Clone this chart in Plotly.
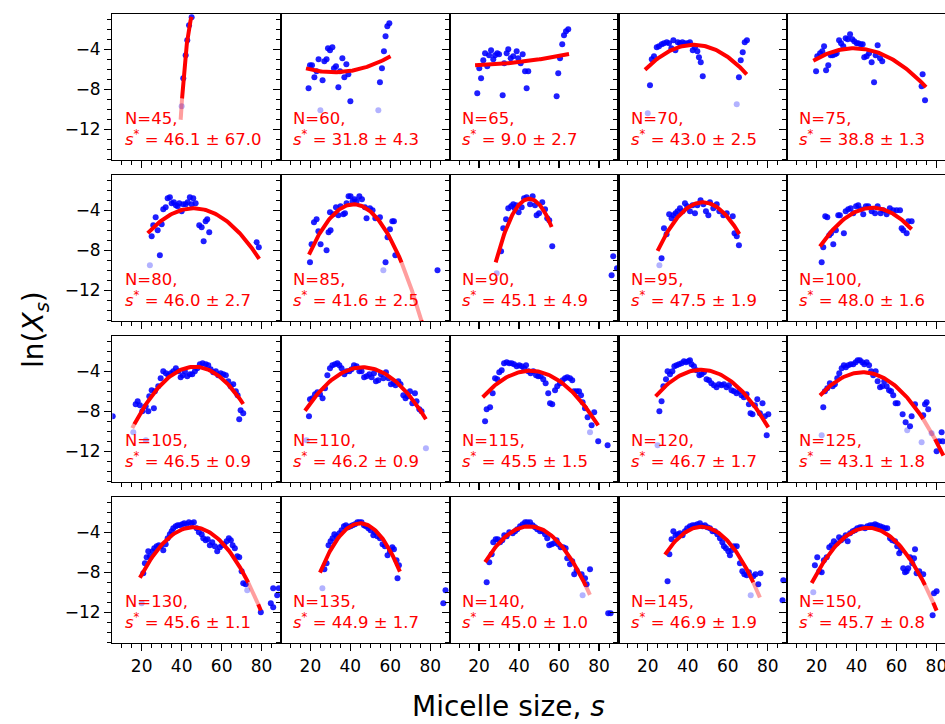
import numpy as np
import plotly.graph_objects as go

# ---------------- panel meta data ----------------
N_LIST = [45, 60, 65, 70, 75, 80, 85, 90, 95, 100, 105, 110, 115, 120, 125, 130, 135, 140, 145, 150]
S_STAR = [46.1, 31.8, 9.0, 43.0, 38.8, 46.0, 41.6, 45.1, 47.5, 48.0, 46.5, 46.2, 45.5, 46.7, 43.1, 45.6, 44.9, 45.0, 46.9, 45.7]
S_ERR = [67.0, 4.3, 2.7, 2.5, 1.3, 2.7, 2.5, 4.9, 1.9, 1.6, 0.9, 0.9, 1.5, 1.7, 1.8, 1.1, 1.7, 1.0, 1.9, 0.8]
# quadratic fit  ln X = peak + curv*(s - s*)^2 , drawn between FIT_FROM and FIT_TO
FIT_PEAK = [-0.46, -6.3, -5.63, -3.55, -3.9, -3.8, -3.4, -2.85, -3.2, -3.75, -3.55, -3.6, -3.95, -3.85, -4.1, -3.5, -3.1, -3.4, -3.45, -3.55]
FIT_CURV = [-0.243, 0.002, 0.00037, -0.0042, -0.003, -0.0047, -0.0101, -0.0225, -0.0095, -0.0056, -0.0063, -0.0052, -0.0047, -0.0051, -0.0051, -0.0072, -0.0122, -0.0074, -0.0083, -0.007]
FIT_FROM = [39.5, 17.8, 18.0, 18.6, 18.4, 23.0, 19.3, 28.3, 24.9, 21.7, 15.3, 17.3, 21.8, 23.9, 21.75, 19.1, 24.8, 23.0, 28.6, 17.6]
FIT_TO = [45.0, 60.1, 65.0, 69.5, 74.8, 78.8, 75.8, 56.3, 65.8, 67.6, 70.8, 77.8, 79.6, 80.3, 83.5, 79.6, 64.8, 75.45, 76.1, 80.1]
# faded stretch of the fit line (outside the fitted window)
FIT_FADE = [(39.5, 40.2), None, None, None, None, None, (65.6, 75.5), None, None, None, (15.3, 16.3),
            None, None, None, (73.4, 79.3), (73.3, 78.3), None, (73.45, 75.45), (72.8, 76.1), (74.3, 78.4)]

# ---------------- data points (s, ln X_s) ----------------
s_45 = [45.0, 43.7, 42.8, 42.0, 40.8]
y_45 = [-0.8, -1.6, -3.1, -4.6, -6.9]
fs_45 = [40.0]
fy_45 = [-9.7]

s_60 = [19.1, 19.8, 20.8, 22.0, 23.1, 24.1, 26.1, 27.0, 28.1, 28.8, 29.8, 31.0, 31.8, 32.8, 34.0, 34.8, 36.0, 37.0, 38.0, 39.0, 40.0, 54.8, 55.8, 56.8, 57.6, 58.5, 59.5]
y_60 = [-7.9, -5.6, -5.6, -6.8, -6.2, -5.0, -7.1, -5.2, -5.0, -3.9, -4.1, -3.8, -5.9, -5.7, -7.8, -6.2, -4.9, -6.8, -5.5, -6.5, -9.2, -7.3, -5.9, -4.2, -2.7, -1.7, -1.4]
fs_60 = [25.0, 54.0]
fy_60 = [-10.1, -10.1]

s_65 = [19.1, 20.1, 21.0, 22.1, 23.0, 24.1, 25.0, 26.0, 27.1, 28.0, 29.1, 30.0, 31.8, 32.6, 33.8, 34.6, 35.8, 37.1, 38.8, 39.6, 40.8, 41.8, 43.0, 44.6, 43.8, 58.8, 59.6, 60.5, 61.6, 62.5, 63.5, 64.6]
y_65 = [-8.4, -5.9, -6.9, -5.1, -4.4, -5.7, -4.6, -4.1, -5.0, -4.6, -4.4, -4.5, -8.6, -5.4, -4.4, -4.0, -4.9, -4.7, -4.2, -4.9, -5.4, -4.5, -6.2, -6.2, -7.9, -8.7, -6.4, -4.9, -3.5, -2.6, -2.2, -2.0]
fs_65 = []
fy_65 = []

s_70 = [21.1, 22.0, 23.1, 24.5, 25.6, 27.0, 28.1, 29.5, 30.6, 31.8, 32.8, 33.8, 35.0, 36.1, 37.3, 38.6, 40.0, 41.1, 42.5, 43.6, 44.8, 45.6, 46.5, 47.5, 65.6, 66.5, 67.5, 68.5, 69.6]
y_70 = [-7.6, -5.0, -4.7, -3.8, -3.7, -3.5, -3.4, -3.3, -3.4, -3.9, -3.1, -4.1, -3.3, -3.4, -3.3, -3.4, -3.4, -3.3, -4.1, -3.8, -4.2, -4.8, -5.3, -6.7, -6.8, -5.1, -4.3, -3.3, -3.1]
fs_70 = [20.0, 64.5]
fy_70 = [-10.4, -9.5]

s_75 = [19.8, 20.4, 21.8, 22.9, 23.8, 24.8, 25.9, 27.1, 28.1, 29.3, 30.1, 31.3, 32.3, 33.4, 34.6, 35.6, 36.8, 37.9, 38.9, 40.1, 40.9, 42.1, 43.1, 43.9, 45.1, 46.3, 47.6, 48.8, 49.6, 50.6, 51.8, 52.9, 73.1, 72.6, 74.3]
y_75 = [-6.2, -4.7, -4.4, -4.2, -3.7, -6.1, -5.6, -4.6, -4.6, -4.5, -4.4, -3.1, -3.4, -3.7, -2.9, -3.0, -2.5, -3.0, -3.2, -3.4, -3.4, -3.5, -3.5, -4.8, -4.7, -4.4, -5.3, -7.3, -4.6, -3.6, -4.9, -5.2, -6.5, -7.7, -9.1]
fs_75 = []
fy_75 = []

s_80 = [25.0, 25.8, 27.0, 28.0, 29.1, 30.0, 30.8, 32.0, 33.0, 34.1, 35.0, 36.1, 37.1, 38.0, 38.8, 40.0, 40.8, 42.0, 43.0, 44.1, 45.0, 45.8, 47.0, 48.8, 50.0, 51.0, 52.0, 52.8, 53.8, 77.5, 78.6]
y_80 = [-6.6, -5.5, -4.7, -6.0, -8.5, -5.4, -3.9, -3.7, -2.8, -2.7, -3.3, -3.2, -3.5, -3.6, -3.3, -4.1, -3.4, -3.4, -3.2, -2.7, -3.4, -2.8, -3.3, -5.5, -5.7, -7.1, -5.1, -4.9, -6.2, -7.2, -7.7]
fs_80 = [24.1]
fy_80 = [-9.5]

s_85 = [19.8, 20.6, 21.8, 23.1, 24.0, 25.1, 28.1, 29.1, 30.1, 29.8, 31.5, 32.8, 34.0, 35.1, 36.5, 37.3, 38.1, 39.1, 40.1, 41.1, 42.1, 43.1, 44.5, 45.8, 47.3, 48.1, 49.8, 51.1, 52.5, 54.8, 57.6, 58.6, 59.8, 61.0, 61.8, 62.5, 83.6]
y_85 = [-9.2, -7.4, -5.2, -4.9, -6.1, -7.4, -8.0, -6.2, -6.0, -4.2, -4.4, -3.7, -4.5, -3.6, -4.4, -4.3, -3.3, -2.6, -2.6, -3.1, -2.9, -3.1, -2.6, -2.9, -3.7, -4.8, -3.8, -4.0, -4.8, -4.7, -9.2, -6.7, -5.9, -5.1, -5.1, -8.5, -10.0]
fs_85 = [56.5]
fy_85 = [-10.0]

s_90 = [31.0, 32.1, 33.5, 34.6, 36.0, 37.1, 37.8, 38.6, 39.8, 41.3, 42.5, 43.8, 45.5, 46.8, 48.0, 48.8, 50.0, 51.6, 53.0, 54.1, 55.1, 56.6, 86.3, 87.1, 89.0]
y_90 = [-8.1, -5.8, -4.9, -3.8, -3.6, -3.4, -3.8, -3.5, -4.2, -3.7, -2.8, -2.7, -3.4, -2.6, -3.5, -4.5, -4.3, -3.2, -3.9, -4.8, -5.0, -7.6, -10.5, -8.6, -9.8]
fs_90 = [28.8]
fy_90 = [-10.3]

s_95 = [26.9, 28.1, 29.4, 30.7, 31.9, 32.8, 33.9, 34.9, 36.1, 37.4, 38.6, 39.7, 41.1, 42.4, 43.6, 44.8, 46.4, 47.8, 49.1, 50.3, 51.1, 52.8, 54.5, 55.8, 57.8, 59.5, 62.5, 63.4, 64.5, 65.6]
y_95 = [-8.8, -5.8, -6.4, -4.4, -4.8, -4.5, -4.3, -4.1, -3.8, -4.1, -3.3, -3.6, -4.1, -3.5, -4.3, -3.5, -3.0, -3.4, -4.1, -4.5, -3.2, -3.8, -3.4, -4.1, -4.5, -4.3, -4.6, -6.3, -6.6, -7.5]
fs_95 = [25.8]
fy_95 = [-9.5]

s_100 = [22.6, 23.4, 24.4, 25.4, 26.4, 27.3, 28.4, 29.7, 30.9, 31.7, 33.7, 34.6, 35.9, 37.1, 38.4, 39.8, 40.9, 42.1, 43.4, 44.7, 45.9, 47.6, 49.3, 50.6, 52.1, 53.4, 55.1, 56.7, 58.4, 60.1, 61.8, 62.6, 63.4, 65.1, 65.9, 67.6]
y_100 = [-9.2, -7.7, -4.6, -4.7, -6.5, -6.3, -7.4, -6.0, -4.5, -4.5, -6.3, -4.1, -3.9, -3.8, -4.3, -3.6, -3.5, -3.9, -4.4, -3.6, -3.6, -4.1, -4.3, -3.6, -4.3, -4.0, -4.4, -3.8, -4.0, -4.0, -4.0, -5.8, -6.0, -6.3, -5.1, -5.1]
fs_100 = []
fy_100 = []

s_105 = [5.5, 17.0, 18.0, 19.1, 20.3, 22.0, 23.3, 23.8, 25.0, 26.1, 26.6, 28.3, 29.5, 30.8, 32.1, 33.3, 34.5, 35.8, 37.1, 38.3, 39.5, 40.5, 41.6, 42.8, 44.1, 45.3, 46.6, 47.8, 49.1, 50.5, 52.1, 53.3, 54.5, 55.8, 57.1, 58.3, 59.5, 60.8, 62.1, 63.3, 64.5, 65.8, 67.1, 68.0, 68.8, 69.5, 70.8]
y_105 = [-8.5, -7.3, -7.0, -7.4, -8.0, -7.5, -8.0, -6.5, -5.9, -7.7, -6.0, -5.5, -4.7, -4.0, -4.2, -4.4, -4.2, -4.0, -3.7, -4.0, -4.6, -4.4, -4.0, -4.5, -4.3, -4.3, -4.0, -3.7, -3.3, -3.2, -3.3, -3.4, -3.8, -4.1, -4.0, -4.4, -4.2, -4.3, -4.4, -5.0, -5.5, -5.3, -6.0, -6.4, -8.8, -7.9, -8.2]
fs_105 = [15.8, 22.1]
fy_105 = [-10.1, -10.9]

s_110 = [19.3, 19.8, 21.0, 22.3, 23.5, 24.8, 26.1, 27.3, 28.5, 29.8, 31.0, 32.3, 33.5, 34.5, 35.6, 37.0, 38.1, 39.5, 40.6, 41.8, 43.1, 44.5, 45.6, 46.9, 48.1, 49.5, 50.6, 51.8, 52.8, 54.0, 55.3, 56.5, 57.8, 59.1, 60.3, 61.5, 62.6, 64.0, 65.1, 66.5, 67.6, 68.6, 69.8, 71.0, 72.3, 73.1, 74.5, 75.6]
y_110 = [-8.5, -6.8, -6.7, -6.3, -6.1, -6.3, -6.7, -5.7, -4.4, -3.7, -3.4, -3.3, -3.2, -3.4, -3.7, -4.3, -4.0, -4.0, -3.8, -3.4, -3.5, -4.0, -4.0, -4.6, -4.5, -4.3, -4.6, -4.2, -5.0, -4.9, -4.3, -4.7, -4.1, -4.7, -5.3, -5.2, -5.4, -5.0, -5.3, -6.4, -6.7, -6.5, -6.0, -7.2, -6.2, -7.0, -7.8, -8.0]
fs_110 = [18.1, 77.8]
fy_110 = [-10.9, -11.7]

s_115 = [23.0, 23.8, 25.5, 26.8, 28.0, 29.1, 30.1, 31.3, 32.5, 33.8, 35.1, 36.3, 37.5, 38.8, 40.1, 41.3, 42.5, 43.5, 44.6, 45.8, 47.1, 48.5, 49.6, 50.8, 52.1, 53.3, 54.6, 55.5, 56.6, 58.0, 59.1, 60.5, 61.8, 63.0, 64.1, 65.5, 66.6, 67.5, 68.8, 70.0, 71.0, 71.8, 73.0, 74.3, 76.3, 77.6, 79.6, 84.3]
y_115 = [-9.0, -7.8, -7.6, -6.2, -4.7, -4.8, -4.1, -3.9, -3.2, -3.1, -3.2, -3.2, -3.3, -3.5, -3.4, -3.5, -3.7, -3.4, -4.0, -4.2, -4.0, -4.4, -4.5, -4.5, -4.8, -5.2, -6.2, -7.2, -7.3, -5.9, -5.5, -5.2, -4.9, -4.7, -4.6, -4.7, -4.9, -6.0, -6.0, -6.0, -6.4, -7.1, -7.7, -8.6, -9.4, -8.1, -11.0, -11.4]
fs_115 = [75.5]
fy_115 = [-10.1]

s_120 = [25.8, 26.9, 27.8, 29.1, 29.9, 31.1, 32.3, 33.3, 34.4, 35.6, 36.9, 38.1, 39.1, 40.3, 41.1, 41.9, 43.1, 44.4, 45.8, 46.9, 48.1, 49.4, 50.6, 51.8, 53.1, 54.4, 55.6, 56.9, 58.1, 59.4, 60.6, 61.9, 63.1, 64.4, 65.8, 66.9, 68.1, 69.4, 70.6, 71.4, 72.4, 73.6, 74.8, 76.1, 77.4, 78.6, 79.5, 80.3]
y_120 = [-8.0, -7.0, -5.5, -4.8, -4.0, -4.3, -4.0, -3.5, -3.4, -3.3, -3.2, -3.0, -3.1, -3.0, -2.9, -3.3, -3.5, -3.9, -4.4, -4.3, -4.1, -4.8, -4.9, -5.2, -5.4, -5.6, -5.3, -5.4, -5.3, -5.6, -5.4, -5.9, -6.0, -6.2, -6.0, -6.4, -6.6, -6.3, -7.3, -8.2, -8.3, -7.4, -6.8, -8.2, -7.2, -8.5, -10.4, -8.3]
fs_120 = [24.9]
fy_120 = [-11.4]

s_125 = [23.4, 24.2, 25.4, 26.7, 28.1, 29.2, 30.4, 31.4, 32.6, 33.7, 34.7, 35.9, 37.1, 38.4, 39.6, 40.6, 41.7, 42.9, 43.9, 45.1, 46.3, 47.3, 48.4, 49.6, 50.6, 51.8, 52.9, 53.9, 55.1, 56.3, 57.3, 58.4, 59.6, 60.6, 63.1, 64.6, 66.8, 67.6, 69.3, 73.4, 74.3, 75.1, 75.9, 80.1, 81.3, 82.6, 83.1]
y_125 = [-7.6, -6.0, -5.7, -5.2, -5.5, -5.3, -4.7, -4.2, -3.7, -3.4, -3.6, -3.4, -3.3, -3.3, -3.1, -2.9, -2.9, -3.1, -3.3, -3.1, -3.4, -4.0, -4.4, -4.0, -5.0, -5.6, -5.5, -5.0, -5.5, -5.9, -6.0, -6.4, -7.2, -7.2, -8.3, -9.1, -9.5, -8.5, -7.3, -8.4, -7.3, -7.1, -7.8, -12.0, -11.0, -10.1, -11.0]
fs_125 = [22.6, 65.4, 72.6, 77.6]
fy_125 = [-10.4, -9.9, -11.1, -10.2]

s_130 = [20.8, 21.6, 22.5, 23.3, 24.1, 25.5, 26.3, 27.5, 28.6, 29.6, 30.8, 32.0, 33.0, 34.1, 35.0, 35.8, 37.0, 38.0, 39.1, 40.3, 41.3, 42.5, 43.6, 45.0, 46.1, 47.5, 48.6, 50.0, 50.8, 52.0, 53.0, 54.1, 55.3, 56.6, 57.8, 59.1, 60.3, 61.3, 62.5, 63.6, 64.6, 65.5, 66.6, 67.8, 68.8, 70.0, 70.8, 72.0, 79.6, 84.6, 85.8, 85.8, 87.8, 88.6]
y_130 = [-8.1, -7.1, -6.5, -5.9, -6.4, -5.9, -5.6, -5.4, -5.3, -5.4, -5.8, -5.2, -4.6, -4.2, -3.9, -3.6, -3.4, -3.3, -3.3, -3.2, -3.1, -3.2, -3.0, -3.1, -3.0, -3.6, -4.0, -4.2, -4.6, -4.8, -4.7, -5.3, -5.0, -5.4, -5.9, -5.5, -5.3, -5.2, -4.9, -4.6, -4.8, -5.3, -5.6, -6.4, -6.5, -7.9, -9.1, -9.2, -12.0, -11.1, -11.5, -9.6, -10.3, -9.6]
fs_130 = [20.0, 72.8]
fy_130 = [-11.1, -9.8]

s_135 = [27.0, 28.1, 29.1, 30.1, 31.1, 32.0, 33.1, 34.5, 35.6, 36.8, 37.8, 38.9, 40.1, 41.1, 42.3, 43.5, 44.5, 45.6, 46.8, 47.8, 49.0, 50.1, 51.5, 52.3, 53.5, 54.8, 56.1, 57.3, 58.6, 59.8, 61.0, 61.8, 63.1, 64.3, 63.6, 86.5, 87.6]
y_135 = [-7.7, -7.1, -5.3, -4.9, -4.6, -4.2, -4.4, -4.1, -3.8, -3.4, -3.3, -3.5, -3.4, -3.3, -3.2, -3.0, -3.0, -3.0, -3.3, -3.4, -3.6, -3.8, -4.3, -4.0, -4.4, -4.6, -5.2, -5.4, -6.3, -5.9, -5.5, -5.7, -6.8, -7.3, -8.6, -11.1, -9.8]
fs_135 = [26.0]
fy_135 = [-9.6]

s_140 = [23.8, 25.1, 26.3, 27.1, 28.3, 29.3, 30.5, 31.6, 32.6, 33.8, 35.1, 36.8, 38.0, 39.1, 40.5, 41.8, 43.0, 44.1, 45.5, 46.8, 48.0, 49.1, 50.5, 51.8, 53.0, 54.1, 55.1, 56.3, 57.5, 58.8, 59.6, 60.8, 62.1, 63.3, 64.1, 65.5, 66.6, 67.6, 68.8, 71.3, 73.0, 73.8, 75.5, 84.6, 85.8]
y_140 = [-9.0, -7.0, -6.2, -5.0, -4.7, -4.7, -5.0, -4.8, -4.3, -4.4, -4.0, -4.1, -3.9, -3.7, -3.4, -3.2, -3.0, -3.0, -3.0, -3.3, -3.5, -3.7, -3.9, -3.9, -4.2, -4.6, -5.3, -5.2, -5.1, -4.8, -5.2, -5.5, -5.5, -5.6, -6.6, -7.2, -6.9, -8.2, -7.8, -8.2, -8.6, -9.2, -7.7, -12.1, -12.1]
fs_140 = [71.8]
fy_140 = [-10.3]

s_145 = [29.9, 30.8, 31.9, 32.8, 33.9, 34.9, 36.1, 37.4, 38.6, 39.7, 41.1, 42.4, 43.6, 44.8, 46.1, 47.4, 48.6, 49.8, 51.1, 52.4, 53.6, 54.8, 56.1, 57.3, 58.1, 59.1, 60.3, 61.1, 61.9, 63.1, 64.5, 66.1, 67.3, 68.3, 69.5, 70.6, 72.8, 73.9, 75.3, 76.4, 87.8, 87.4]
y_145 = [-8.9, -6.2, -4.7, -3.9, -4.3, -4.2, -4.1, -4.3, -3.9, -3.6, -3.4, -3.3, -3.3, -3.2, -3.1, -3.4, -3.3, -3.5, -3.6, -3.9, -3.9, -4.2, -4.6, -5.0, -5.4, -5.6, -5.9, -6.3, -5.8, -5.4, -5.4, -7.1, -7.9, -8.2, -8.3, -8.0, -8.4, -8.2, -9.2, -8.1, -8.8, -10.8]
fs_145 = [71.5]
fy_145 = [-10.3]

s_150 = [19.2, 20.4, 21.4, 22.6, 23.7, 25.1, 26.4, 27.6, 28.7, 30.1, 31.3, 32.3, 33.4, 34.6, 35.6, 36.8, 38.1, 39.3, 40.4, 41.8, 42.9, 44.3, 45.4, 46.8, 48.1, 49.3, 50.4, 51.8, 53.1, 54.3, 55.4, 56.8, 57.9, 59.3, 60.4, 61.4, 62.3, 63.4, 64.3, 65.1, 65.9, 66.8, 67.9, 68.8, 69.3, 70.1, 71.4, 73.4, 78.1, 78.8, 80.1]
y_150 = [-7.3, -6.5, -7.9, -8.0, -6.8, -6.5, -5.5, -5.3, -4.9, -5.1, -4.5, -4.8, -4.6, -4.3, -4.9, -4.1, -3.9, -3.8, -3.6, -3.5, -3.5, -3.6, -3.4, -3.3, -3.3, -3.2, -3.3, -3.4, -3.5, -3.6, -3.6, -4.6, -4.8, -4.9, -5.4, -6.1, -5.8, -7.6, -8.0, -7.9, -7.6, -6.5, -7.1, -6.6, -5.7, -8.1, -7.9, -8.2, -12.3, -10.1, -9.9]
fs_150 = [18.4]
fy_150 = [-10.0]

POINTS = [
    (s_45, y_45, fs_45, fy_45), (s_60, y_60, fs_60, fy_60), (s_65, y_65, fs_65, fy_65),
    (s_70, y_70, fs_70, fy_70), (s_75, y_75, fs_75, fy_75), (s_80, y_80, fs_80, fy_80),
    (s_85, y_85, fs_85, fy_85), (s_90, y_90, fs_90, fy_90), (s_95, y_95, fs_95, fy_95),
    (s_100, y_100, fs_100, fy_100), (s_105, y_105, fs_105, fy_105), (s_110, y_110, fs_110, fy_110),
    (s_115, y_115, fs_115, fy_115), (s_120, y_120, fs_120, fy_120), (s_125, y_125, fs_125, fy_125),
    (s_130, y_130, fs_130, fy_130), (s_135, y_135, fs_135, fy_135), (s_140, y_140, fs_140, fy_140),
    (s_145, y_145, fs_145, fy_145), (s_150, y_150, fs_150, fy_150),
]

X_TICKS = [20, 40, 60, 80]
Y_TICKS = [-4, -8, -12]
Y_TICK_TEXT = ["\u22124", "\u22128", "\u221212"]

# ---------------- geometry ----------------
W, H = 945, 724
COL_LEFT0, COL_W = 112.3, 168.7
ROW_TOP0, ROW_STEP, ROW_H = 14.0, 161.0, 146.0
X0, X1 = 5.3, 89.7
Y0, Y1 = -15.07, -0.47
FONT = "DejaVu Sans"

BLUE = "rgba(0,0,255,0.88)"
BLUE_FAINT = "rgba(0,0,255,0.3)"
RED = "rgb(255,0,0)"
RED_FAINT = "rgba(255,0,0,0.38)"

fig = go.Figure()
layout = {}
annotations = []


def fit_segments(lo, hi, fade):
    if fade is None:
        return [(lo, hi, False)]
    a, b = fade
    segs = []
    if a > lo:
        segs.append((lo, a, False))
    segs.append((max(a, lo), min(b, hi), True))
    if b < hi:
        segs.append((b, hi, False))
    return segs


for i, N in enumerate(N_LIST):
    r, c = divmod(i, 5)
    n = i + 1
    xa = "x" if n == 1 else f"x{n}"
    ya = "y" if n == 1 else f"y{n}"
    left = COL_LEFT0 + c * COL_W
    right = min(left + COL_W, W)
    top = ROW_TOP0 + r * ROW_STEP
    bottom = top + ROW_H
    xmax = X0 + (X1 - X0) * (right - left) / COL_W

    common = dict(showline=True, linecolor="black", linewidth=1.2, ticks="outside",
                  tickcolor="black", tickwidth=1.2, ticklen=7, showgrid=False, zeroline=False,
                  tickfont=dict(family=FONT, size=17, color="black"))
    layout["xaxis" if n == 1 else f"xaxis{n}"] = dict(
        common, domain=[left / W, right / W], range=[X0, xmax], anchor=ya,
        mirror=True, tickmode="array", tickvals=X_TICKS, showticklabels=(r == 3),
        ticklabeloverflow="allow",
        minor=dict(tickmode="linear", tick0=0, dtick=5, ticks="outside", ticklen=4,
                   tickwidth=1, tickcolor="black", showgrid=False))
    layout["yaxis" if n == 1 else f"yaxis{n}"] = dict(
        common, domain=[1 - bottom / H, 1 - top / H], range=[Y0, Y1], anchor=xa,
        mirror=(c < 4), tickmode="array", tickvals=Y_TICKS, ticktext=Y_TICK_TEXT,
        showticklabels=(c == 0), ticklabeloverflow="allow",
        minor=dict(tickmode="linear", tick0=0, dtick=1, ticks="outside", ticklen=4,
                   tickwidth=1, tickcolor="black", showgrid=False))

    s, y, fs, fy = POINTS[i]
    if fs:
        fig.add_trace(go.Scatter(x=fs, y=fy, mode="markers", xaxis=xa, yaxis=ya,
                                 marker=dict(color=BLUE_FAINT, size=6, line=dict(width=0)),
                                 showlegend=False, hoverinfo="skip"))
    fig.add_trace(go.Scatter(x=s, y=y, mode="markers", xaxis=xa, yaxis=ya,
                             marker=dict(color=BLUE, size=6, line=dict(width=0)),
                             showlegend=False, hoverinfo="skip"))
    for (a, b, faded) in fit_segments(FIT_FROM[i], FIT_TO[i], FIT_FADE[i]):
        xs = np.linspace(a, b, 80)
        ys = FIT_PEAK[i] + FIT_CURV[i] * (xs - S_STAR[i]) ** 2
        fig.add_trace(go.Scatter(x=xs, y=ys, mode="lines", xaxis=xa, yaxis=ya,
                                 line=dict(color=RED_FAINT if faded else RED, width=4),
                                 showlegend=False, hoverinfo="skip"))

    tx = X0 + 10.4 / 2.0
    annotations.append(dict(xref=xa, yref=ya, x=tx, y=Y1 - 104.3 / 10.0, text=f"N={N},",
                            showarrow=False, xanchor="left", yanchor="middle",
                            font=dict(family=FONT, size=16.5, color="red")))
    annotations.append(dict(xref=xa, yref=ya, x=tx, y=Y1 - 123.7 / 10.0,
                            text=f"<i>s</i><sup>*</sup> = {S_STAR[i]:.1f} \u00b1 {S_ERR[i]:.1f}",
                            showarrow=False, xanchor="left", yanchor="middle",
                            font=dict(family=FONT, size=16.5, color="red")))

annotations.append(dict(xref="paper", yref="paper", x=508 / W, y=1 - 706 / H,
                        text="Micelle size, <i>s</i>", showarrow=False,
                        xanchor="center", yanchor="middle",
                        font=dict(family=FONT, size=28, color="black")))
annotations.append(dict(xref="paper", yref="paper", x=35 / W, y=1 - 330 / H,
                        text="ln(<i>X</i><sub><i>s</i></sub>)", showarrow=False, textangle=-90,
                        xanchor="center", yanchor="middle",
                        font=dict(family=FONT, size=28, color="black")))

fig.update_layout(
    width=W, height=H,
    margin=dict(l=0, r=0, t=0, b=0, autoexpand=False),
    paper_bgcolor="white", plot_bgcolor="white",
    showlegend=False,
    hovermode=False,
    annotations=annotations,
    **layout,
)

fig.write_html("out.html", config={"displayModeBar": False, "staticPlot": True},
               post_script="document.body.style.margin='0';document.body.style.overflow='hidden';")
